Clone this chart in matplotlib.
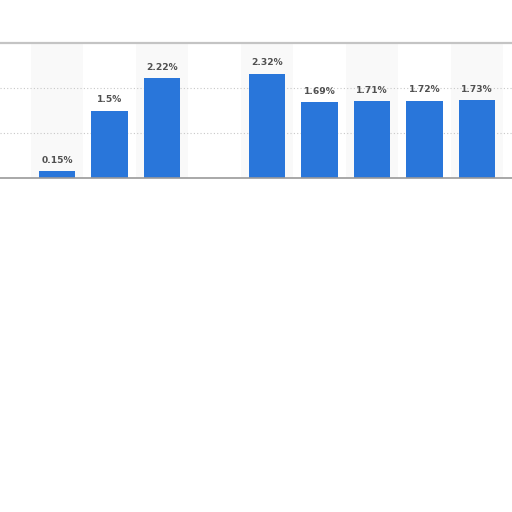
import numpy as np
import matplotlib
matplotlib.use('Agg')
import matplotlib.pyplot as plt

# values (percent), position 3 has no data
positions = [0, 1, 2, 3, 4, 5, 6, 7, 8]
values = [0.15, 1.5, 2.22, np.nan, 2.32, 1.69, 1.71, 1.72, 1.73]
labels = ['0.15%', '1.5%', '2.22%', '', '2.32%', '1.69%', '1.71%', '1.72%', '1.73%']
y_ticks = [1, 2]

fig = plt.figure(figsize=(5.12, 5.12), dpi=100)
ax = fig.add_axes([0, 1 - 178 / 512, 1, 135 / 512])

# alternating column shading
for p in positions:
    if p % 2 == 0:
        ax.axvspan(p - 0.5, p + 0.5, color='#f9f9f9', zorder=0, lw=0)

for y in y_ticks:
    ax.axhline(y, color='#c8c8c8', lw=0.8, ls=(0, (1, 2)), zorder=1)

ax.bar(positions, values, width=0.686, color='#2976da', zorder=2)

for p, v, lab in zip(positions, values, labels):
    if np.isnan(v):
        continue
    ax.annotate(lab, (p, v), xytext=(0, 4.5), textcoords='offset points',
                ha='center', va='bottom', fontsize=6.6, fontweight='bold',
                color='#505050', family='DejaVu Sans')

ax.set_xlim(-57 / 52.5, -57 / 52.5 + 512 / 52.5)
ax.set_ylim(0, 3)
ax.axhline(3, color='#c4c4c4', lw=1.6, zorder=3, clip_on=False)
ax.axhline(0, color='#9a9a9a', lw=1.2, zorder=3, clip_on=False)

for s in ax.spines.values():
    s.set_visible(False)
ax.set_xticks([])
ax.set_yticks([])

fig.savefig('out.png', dpi=100, facecolor='white')
